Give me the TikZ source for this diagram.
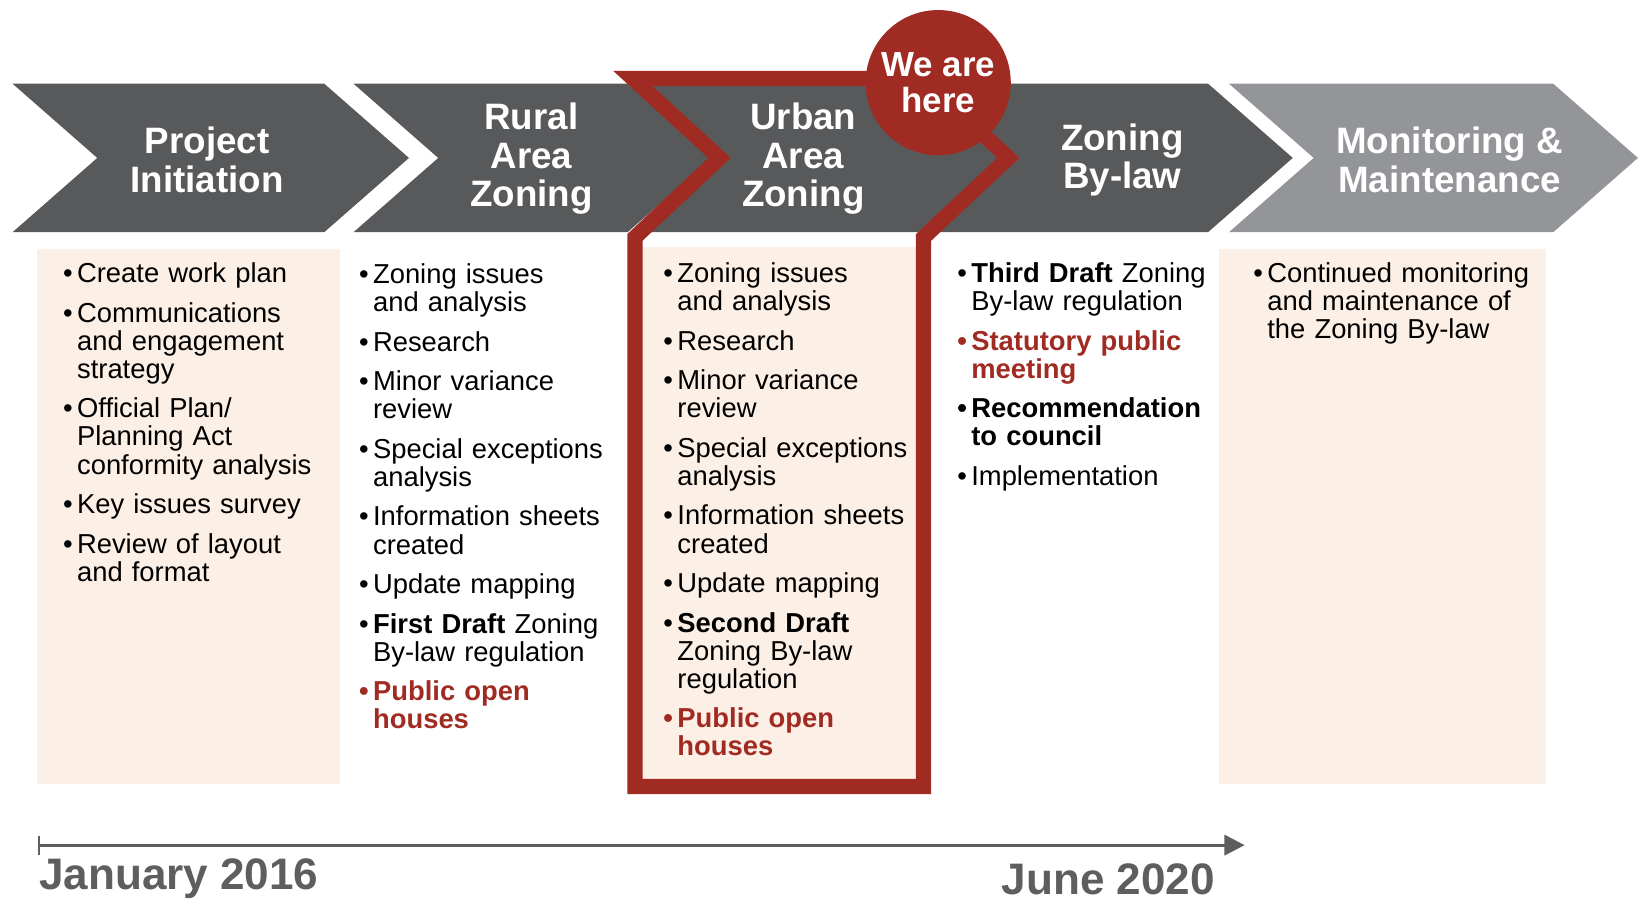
\documentclass[tikz,border=0pt]{standalone}
\usepackage{fontspec}
\setmainfont{Liberation Sans}
\usetikzlibrary{arrows.meta}

\definecolor{chevdark}{HTML}{58595B}
\definecolor{chevlight}{HTML}{939598}
\definecolor{herered}{HTML}{A02B22}
\definecolor{boxpeach}{HTML}{FCEFE6}
\definecolor{dategray}{HTML}{5E5E5E}

% bullet line with hanging indent
\newcommand{\bitem}[2][]{\par\hangindent=7.6pt\hangafter=1\noindent{#1\makebox[7.6pt][l]{\textbullet}#2}\par}

\begin{document}
\begin{tikzpicture}[x=0.02cm, y=-0.02cm,
    head/.style={text=white, align=center, inner sep=0pt, font=\fontsize{20}{21}\selectfont\bfseries},
    col/.style={anchor=north west, inner sep=0pt, text width=175pt, align=left,
        font=\fontsize{14.9}{15.3}\selectfont},
    date/.style={text=dategray, inner sep=0pt, font=\fontsize{24}{24}\selectfont\bfseries}]
    \useasboundingbox (0,0) rectangle (1568,863);

    % boxes behind the lists
    \fill[boxpeach] (35,238) rectangle (325,750);
    \fill[boxpeach] (612,236) rectangle (878,747);
    \fill[boxpeach] (1165,238) rectangle (1478,750);

    % chevrons
    \foreach \l/\r/\c in {12/310/chevdark, 338/600/chevdark, 607/883/chevdark, 890/1155/chevdark, 1175/1485/chevlight}
        \fill[\c] (\l,80) -- (\r,80) -- (\r+81,151) -- (\r,222) -- (\l,222) -- (\l+81,151) -- cycle;

    % current stage frame
    \draw[herered, line width=8.3pt] (605,75) -- (883,75) -- (964,151) -- (883,227) -- (883,752)
        -- (607,752) -- (607,227) -- (688,151) -- cycle;
    \node[circle, fill=herered, minimum size=79pt, inner sep=0pt, text=white, align=center,
        font=\fontsize{19}{20}\selectfont\bfseries] (here) at (897,79) {We are\\here};

    \node[head] (init) at (198,153) {Project\\Initiation};
    \node[head] (rural) at (508,152) {Rural\\Area\\Zoning};
    \node[head] (urban) at (768,152) {Urban\\Area\\Zoning};
    \node[head] (bylaw) at (1073,153) {Zoning\\By-law};
    \node[head] (monit) at (1386,153) {Monitoring \&\\Maintenance};

    \node[col] (initlist) at (60,232) {\setlength{\parskip}{6.2pt}%
        \bitem{Create work plan}
        \bitem{Communications\newline and engagement\newline strategy}
        \bitem{Official Plan/\newline Planning Act\newline conformity analysis}
        \bitem{Key issues survey}
        \bitem{Review of layout\newline and format}};

    \node[col] (rurallist) at (343,233) {\setlength{\parskip}{6.2pt}%
        \bitem{Zoning issues\newline and analysis}
        \bitem{Research}
        \bitem{Minor variance\newline review}
        \bitem{Special exceptions\newline analysis}
        \bitem{Information sheets\newline created}
        \bitem{Update mapping}
        \bitem{\textbf{First Draft} Zoning\newline By-law regulation}
        \bitem[\color{herered}\bfseries]{Public open\newline houses}};

    \node[col] (urbanlist) at (634,232) {\setlength{\parskip}{6.2pt}%
        \bitem{Zoning issues\newline and analysis}
        \bitem{Research}
        \bitem{Minor variance\newline review}
        \bitem{Special exceptions\newline analysis}
        \bitem{Information sheets\newline created}
        \bitem{Update mapping}
        \bitem{\textbf{Second Draft}\newline Zoning By-law\newline regulation}
        \bitem[\color{herered}\bfseries]{Public open\newline houses}};

    \node[col] (bylawlist) at (915,232) {\setlength{\parskip}{6.2pt}%
        \bitem{\textbf{Third Draft} Zoning\newline By-law regulation}
        \bitem[\color{herered}\bfseries]{Statutory public\newline meeting}
        \bitem[\bfseries]{Recommendation\newline to council}
        \bitem{Implementation}};

    \node[col] (monitlist) at (1198,232) {\setlength{\parskip}{6.2pt}%
        \bitem{Continued monitoring\newline and maintenance of\newline the Zoning By-law}};

    % timeline
    \coordinate (tlstart) at (37,808);
    \coordinate (tlend) at (1190,808);
    \draw[dategray, line width=1.6pt, -{Triangle[length=11pt, width=11pt]}] (tlstart) -- (tlend);
    \draw[dategray, line width=1pt] ([yshift=0.18cm]tlstart) -- ([yshift=-0.18cm]tlstart);
    \node[date, anchor=base west] (jan) at (37,850) {January 2016};
    \node[date, anchor=base east] (jun) at (1162,855) {June 2020};
\end{tikzpicture}
\end{document}
